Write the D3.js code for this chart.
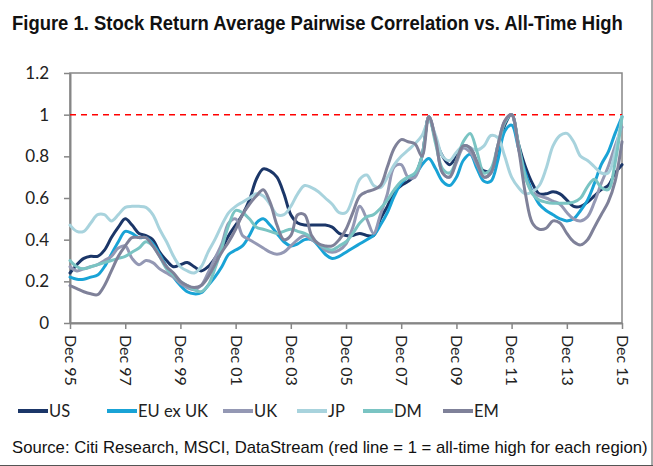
<!DOCTYPE html>
<html><head><meta charset="utf-8">
<script src="https://cdn.jsdelivr.net/npm/d3@7"></script>
<style>
body{margin:0;background:#fff;}
svg{display:block;}
</style></head>
<body><svg id="c" width="653" height="466"></svg>
<script>
const seriesNames = ["US","EU ex UK","UK","JP","DM","EM"];
const seriesColors = ["#1B3668","#19A3D6","#9498B4","#A8D3DD","#7AC4C3","#7F8199"];
const yTicks = [0,0.2,0.4,0.6,0.8,1,1.2];
const yTickLabels = ["0","0.2","0.4","0.6","0.8","1","1.2"];
const xTickLabels = ["Dec 95","Dec 97","Dec 99","Dec 01","Dec 03","Dec 05","Dec 07","Dec 09","Dec 11","Dec 13","Dec 15"];
const allTimeHigh = 1;

const usVals = [.24,.28,.31,.32, .32,.35,.41,.46, .50,.47,.43,.42, .40,.34,.30,.27, .28,.29,.27,.25, .27,.31,.36,.42, .47,.52,.59,.69, .74,.73,.70,.62, .52,.48,.47,.47, .47,.47,.46,.43, .42,.42,.43,.42, .42,.50,.56,.63, .66,.68,.71,.80, .99,.88,.80,.76, .80,.85,.84,.77, .73,.73,.82,.95, 1.0,.86,.75,.67, .62,.62,.63,.62, .59,.56,.56,.58, .61,.64,.66,.72, .76];
const euVals = [.22,.21,.21,.22, .23,.27,.33,.39, .44,.43,.41,.41, .38,.33,.27,.22, .18,.15,.14,.145, .18,.22,.27,.33, .35,.37,.42,.48, .50,.47,.43,.39, .37,.38,.40,.40, .37,.33,.31,.32, .34,.36,.38,.40, .42,.47,.53,.61, .67,.70,.71,.76, .79,.74,.68,.66, .70,.78,.81,.74, .68,.68,.78,.92, .95,.84,.72,.63, .57,.54,.52,.50, .49,.50,.54,.59, .67,.76,.82,.91, .99];
const ukVals = [.27,.25,.26,.27, .28,.30,.32,.36, .37,.31,.28,.30, .29,.26,.24,.22, .19,.17,.16,.18, .24,.31,.38,.48, .50,.42,.40,.38, .36,.34,.33,.34, .37,.40,.42,.40, .38,.35,.34,.35, .38,.46,.56,.50, .43,.52,.62,.75, .76,.70,.70,.80, .99,.88,.72,.70, .77,.84,.82,.76, .70,.72,.85,.97, 1.0,.84,.70,.63, .61,.60,.585,.57, .53,.50,.49,.51, .58,.67,.75,.85, .94];
const jpVals = [.47,.44,.44,.48, .52,.52,.49,.52, .555,.56,.56,.555, .52,.45,.39,.32, .27,.25,.24,.27, .34,.40,.47,.53, .56,.58,.60,.62, .61,.57,.52,.52, .56,.62,.66,.65, .63,.60,.57,.53, .53,.60,.69,.71, .66,.65,.70,.76, .80,.83,.86,.90, .97,.90,.80,.78, .82,.85,.84,.83, .85,.90,.89,.80, .70,.65,.62,.63, .66,.74,.85,.90, .91,.87,.80,.78, .75,.72,.72,.82, .99];
const dmVals = [.30,.27,.26,.27, .28,.29,.30,.31, .32,.34,.36,.39, .37,.32,.26,.23, .20,.18,.16,.15, .18,.26,.36,.47, .54,.53,.50,.46, .45,.44,.43,.44, .45,.44,.43,.41, .38,.36,.35,.37, .39,.43,.48,.51, .52,.55,.59,.64, .68,.70,.72,.80, .99,.86,.74,.72, .78,.87,.91,.82, .72,.74,.85,.96, 1.0,.86,.70,.62, .59,.58,.575,.575, .575,.58,.60,.655, .69,.65,.64,.77, .99];
const emVals = [.18,.165,.15,.14, .136,.18,.25,.32, .37,.41,.41,.41, .37,.32,.27,.24, .20,.18,.17,.18, .22,.28,.34,.39, .45,.52,.57,.61, .64,.58,.47,.40, .42,.52,.52,.42, .38,.37,.37,.40, .45,.53,.61,.63, .64,.66,.75,.84, .88,.87,.86,.80, .99,.88,.72,.70, .78,.85,.84,.77, .70,.72,.85,.97, 1.0,.84,.62,.48, .45,.455,.49,.48, .43,.39,.375,.40, .46,.52,.58,.68, .87];

const seriesValues = [usVals, euVals, ukVals, jpVals, dmVals, emVals];
const dates = d3.timeMonth.range(new Date(1995,11,1), new Date(2015,11,2), 3);
const tickDates = xTickLabels.map((d,i)=>new Date(1995+2*i,11,1));

const svg = d3.select("#c");
const W=653,H=466;
const m = {l:70, r:622, t:73, b:323};
const x = d3.scaleTime().domain([new Date(1995,11,1), new Date(2015,11,1)]).range([m.l, m.r]);
const y = d3.scaleLinear().domain([0,1.2]).range([m.b, m.t]);

svg.append("rect").attr("width",W).attr("height",H).attr("fill","#fff");

// helper: narrow text by horizontal scaling to a target width
function narrowText(sel, x0, y0, targetW){
  const w = sel.node().getComputedTextLength();
  sel.attr("transform",`translate(${x0},${y0}) scale(${targetW/w},1)`);
}

// title
const title = svg.append("text").attr("x",0).attr("y",0)
  .attr("font-family","'Liberation Sans', Arial, sans-serif")
  .attr("font-weight","bold").attr("font-size",20.5).attr("fill","#111")
  .text("Figure 1. Stock Return Average Pairwise Correlation vs. All-Time High");
narrowText(title, 12, 30, 611);

// plot frame
svg.append("rect").attr("x",m.l).attr("y",m.t).attr("width",m.r-m.l).attr("height",m.b-m.t)
  .attr("fill","none").attr("stroke","#868686").attr("stroke-width",1.5);

// y axis
const yAxis = svg.append("g").attr("transform",`translate(${m.l},0)`)
  .call(d3.axisLeft(y).tickValues(yTicks).tickFormat((d,i)=>yTickLabels[i]).tickSize(6).tickSizeOuter(0).tickPadding(15));
yAxis.select(".domain").attr("stroke","#868686").attr("stroke-width",2);
yAxis.selectAll(".tick line").attr("stroke","#868686").attr("stroke-width",1.5);
yAxis.selectAll("text").attr("font-family","Lato, 'Open Sans', sans-serif").attr("font-size",17).attr("fill","#222");

// x axis
const xAxis = svg.append("g").attr("transform",`translate(0,${m.b})`)
  .call(d3.axisBottom(x).tickValues(tickDates).tickFormat((d,i)=>xTickLabels[i]).tickSize(6).tickSizeOuter(0));
xAxis.select(".domain").attr("stroke","#868686").attr("stroke-width",2);
xAxis.selectAll(".tick line").attr("stroke","#868686").attr("stroke-width",1.5);
xAxis.selectAll("text").attr("font-family","Lato, 'Open Sans', sans-serif").attr("font-size",16).attr("fill","#222")
  .attr("text-anchor","start").attr("dy","0.35em").attr("transform","translate(0,12) rotate(90)").attr("y",0).attr("x",0);

// red dashed line
svg.append("line").attr("x1",m.l).attr("x2",m.r).attr("y1",y(allTimeHigh)).attr("y2",y(allTimeHigh))
  .attr("stroke","#FF0000").attr("stroke-width",1.5).attr("stroke-dasharray","6,5");

// lines
const line = d3.line().x((d,i)=>x(dates[i])).y(d=>y(d)).curve(d3.curveCatmullRom.alpha(0.5));
seriesValues.forEach((vals,k)=>{
  svg.append("path").datum(vals).attr("d",line).attr("fill","none")
    .attr("stroke",seriesColors[k]).attr("stroke-width",3).attr("stroke-linejoin","round").attr("stroke-linecap","round");
});

// legend
const legX = [18,107,223,297,363,443];
const lg = svg.append("g");
seriesNames.forEach((n,k)=>{
  lg.append("line").attr("x1",legX[k]).attr("x2",legX[k]+30).attr("y1",411).attr("y2",411)
    .attr("stroke",seriesColors[k]).attr("stroke-width",4);
  lg.append("text").attr("x",legX[k]+31).attr("y",417).attr("font-family","Lato, 'Open Sans', sans-serif")
    .attr("font-size",16.5).attr("fill","#222").text(n);
});

// source
const src = svg.append("text").attr("x",0).attr("y",0)
  .attr("font-family","'Liberation Sans', Arial, sans-serif")
  .attr("font-size",16).attr("fill","#111")
  .text("Source: Citi Research, MSCI, DataStream (red line = 1 =  all-time high for each region)");
narrowText(src, 12, 453, 636);

// outer frame edges
svg.append("line").attr("x1",W-1).attr("x2",W-1).attr("y1",0).attr("y2",H).attr("stroke","#555").attr("stroke-width",1);
svg.append("line").attr("x1",0).attr("x2",W).attr("y1",H-0.5).attr("y2",H-0.5).attr("stroke","#555").attr("stroke-width",1);
</script></body></html>
